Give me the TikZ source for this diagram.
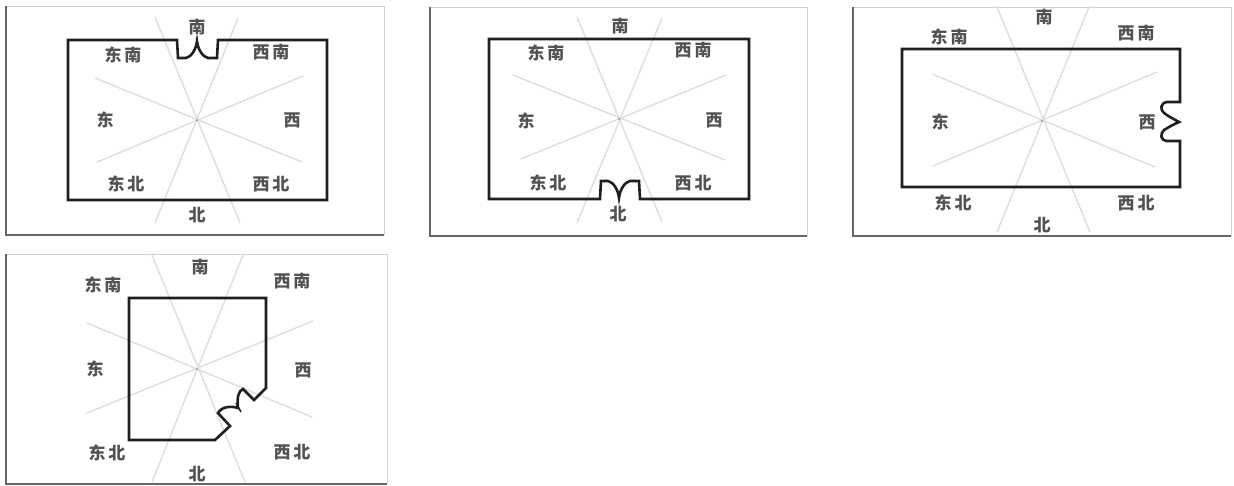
\documentclass[tikz,border=0pt]{standalone}
\usepackage{fontspec}
\setmainfont{Noto Sans CJK SC}
\newcommand{\gp}{\kern3pt\relax}
\tikzset{
  lab/.style={inner sep=0pt,font=\fontsize{17}{17}\selectfont\bfseries,text=black!68},
  wall/.style={draw=black!88,line width=2.6pt,line join=miter},
  spoke/.style={draw=black!13,line width=1.4pt},
  edgelight/.style={draw=black!18,line width=1pt},
  edgedark/.style={draw=black!60,line width=1.5pt},
  hub/.style={fill=black!45,circle,inner sep=0pt,minimum size=2pt}
}
\newcommand{\panelframe}[4]{%
  \draw[edgelight] (#1,#4) -- (#1,#2) -- (#3,#2) -- (#3,#4);
  \draw[edgedark] (#1,#2) -- (#1,#4) -- (#3,#4);}
\begin{document}
\begin{tikzpicture}[x=1pt,y=-1pt]
\useasboundingbox (0,0) rectangle (1234,485);
\fill[white] (0,0) rectangle (1234,485);
% Panel 1
\panelframe{6}{6}{384}{235}
\foreach \a/\b/\c/\d in {155/17/240/223,238/18/155/223,95/78/302/162,303/76/97/162}
  \draw[spoke] (\a,\b) -- (\c,\d);
\node[hub] (hubA) at (197,120) {};
\draw[wall] (68,40) -- (177,40) -- (178,58) -- (186,58) .. controls (191,57) and (196,50) .. (197,41) .. controls (198,50) and (203,57) .. (208,58) -- (217,58) -- (218,40) -- (327,40) -- (327,200) -- (68,200) -- cycle;
\node[lab] (a1) at (197,27) {南};
\node[lab] (a2) at (123,55) {东\gp{}南};
\node[lab] (a3) at (271,52) {西\gp{}南};
\node[lab] (a4) at (105,120) {东};
\node[lab] (a5) at (292,120) {西};
\node[lab] (a6) at (126,184) {东\gp{}北};
\node[lab] (a7) at (271,184) {西\gp{}北};
\node[lab] (a8) at (197,215) {北};
% Panel 2
\panelframe{430}{7}{807}{236}
\foreach \a/\b/\c/\d in {577/17/662/222,662/18/577/223,513/75/725/160,726/75/521/159}
  \draw[spoke] (\a,\b) -- (\c,\d);
\node[hub] (hubB) at (619,119) {};
\draw[wall] (489,39) -- (749,39) -- (749,199) -- (640,199) -- (639,181) -- (630,181) .. controls (625,182) and (620,189) .. (619,198) .. controls (618,189) and (613,182) .. (608,181) -- (601,181) -- (600,199) -- (489,199) -- cycle;
\node[lab] (b1) at (620,26) {南};
\node[lab] (b2) at (546,53) {东\gp{}南};
\node[lab] (b3) at (693,50) {西\gp{}南};
\node[lab] (b4) at (526,121) {东};
\node[lab] (b5) at (714,120) {西};
\node[lab] (b6) at (548,183) {东\gp{}北};
\node[lab] (b7) at (693,183) {西\gp{}北};
\node[lab] (b8) at (618,214) {北};
% Panel 3
\panelframe{853}{7}{1231}{236}
\foreach \a/\b/\c/\d in {997/7/1090/232,1089/7/997/232,932/74/1155/167,1157/72/933/166}
  \draw[spoke] (\a,\b) -- (\c,\d);
\node[hub] (hubC) at (1042,121) {};
\draw[wall] (902,49) -- (1180,49) -- (1180,102) -- (1167,102) .. controls (1160,103) and (1160,110) .. (1164,113) .. controls (1169,117) and (1174,119) .. (1179,122) .. controls (1174,124) and (1169,127) .. (1164,130) .. controls (1160,134) and (1160,140) .. (1167,141) -- (1180,141) -- (1180,187) -- (902,187) -- cycle;
\node[lab] (c1) at (1044,17) {南};
\node[lab] (c2) at (949,37) {东\gp{}南};
\node[lab] (c3) at (1136,33) {西\gp{}南};
\node[lab] (c4) at (940,122) {东};
\node[lab] (c5) at (1147,122) {西};
\node[lab] (c6) at (953,203) {东\gp{}北};
\node[lab] (c7) at (1136,203) {西\gp{}北};
\node[lab] (c8) at (1042,225) {北};
% Panel 4
\panelframe{6}{254}{387}{484}
\foreach \a/\b/\c/\d in {152/255/245/482,243/255/152/482,87/323/312/417,313/321/87/413}
  \draw[spoke] (\a,\b) -- (\c,\d);
\node[hub] (hubD) at (197,369) {};
\draw[wall] (129,298) -- (266,298) -- (266,388) -- (254,400) -- (243,389) .. controls (238,391) and (237,398) .. (238,408) .. controls (232,406) and (222,406) .. (218,413) -- (230,426) -- (215,440) -- (129,440) -- cycle;
\draw[draw=black!88,line width=1.6pt] (236,403) -- (241,412);
\node[lab] (d1) at (200,267) {南};
\node[lab] (d2) at (103,285) {东\gp{}南};
\node[lab] (d3) at (292,281) {西\gp{}南};
\node[lab] (d4) at (95,369) {东};
\node[lab] (d5) at (303,370) {西};
\node[lab] (d6) at (107,453) {东\gp{}北};
\node[lab] (d7) at (292,452) {西\gp{}北};
\node[lab] (d8) at (197,474) {北};
\end{tikzpicture}
\end{document}
